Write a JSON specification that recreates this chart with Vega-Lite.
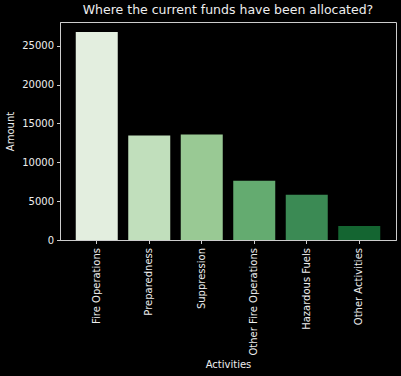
{
  "$schema": "https://vega.github.io/schema/vega-lite/v6.json",
  "width": 336,
  "height": 218,
  "autosize": "none",
  "padding": {"left": 60, "top": 22, "right": 5, "bottom": 136},
  "background": "#000000",
  "title": {"text": "Where the current funds have been allocated?", "font": "DejaVu Sans", "fontSize": 12.5, "fontWeight": "normal", "color": "#eeeeee", "offset": 6, "anchor": "middle"},
  "config": {
    "view": {"stroke": "#cccccc", "strokeWidth": 1},
    "axis": {"labelFont": "DejaVu Sans", "titleFont": "DejaVu Sans", "labelFontSize": 10, "titleFontSize": 10, "labelColor": "#eeeeee", "titleColor": "#eeeeee", "titleFontWeight": "normal", "domainColor": "#cccccc", "tickColor": "#cccccc", "tickSize": 3.5, "grid": false}
  },
  "data": {"values": [
    {"activity": "Fire Operations", "amount": 26770, "c": "#e3eedf"},
    {"activity": "Preparedness", "amount": 13450, "c": "#c1dfbc"},
    {"activity": "Suppression", "amount": 13580, "c": "#99c994"},
    {"activity": "Other Fire Operations", "amount": 7630, "c": "#64ab70"},
    {"activity": "Hazardous Fuels", "amount": 5820, "c": "#3b8a54"},
    {"activity": "Other Activities", "amount": 1810, "c": "#146531"}
  ]},
  "mark": {"type": "bar"},
  "encoding": {
    "x": {"field": "activity", "type": "nominal", "sort": null, "title": "Activities",
      "scale": {"paddingInner": 0.2, "paddingOuter": 0.3},
      "axis": {"labelAngle": -90, "labelAlign": "right", "labelBaseline": "middle", "labelPadding": 4, "titlePadding": 4}},
    "y": {"field": "amount", "type": "quantitative", "title": "Amount",
      "scale": {"domain": [0, 28050], "nice": false},
      "axis": {"values": [0, 5000, 10000, 15000, 20000, 25000], "format": "d", "labelPadding": 3, "titlePadding": 6}},
    "color": {"field": "c", "type": "nominal", "scale": null, "legend": null}
  }
}
